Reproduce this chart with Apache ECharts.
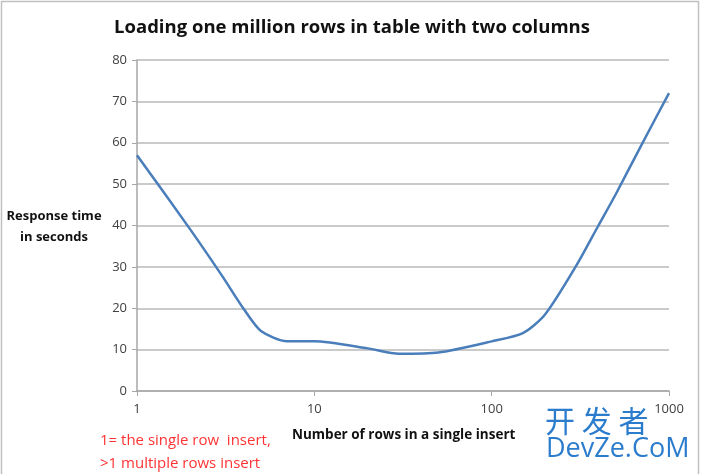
<!DOCTYPE html>
<html><head><meta charset="utf-8">
<script src="https://cdn.jsdelivr.net/npm/echarts@6/dist/echarts.min.js"></script>
<style>html,body{margin:0;padding:0;background:#fff}#c{width:704px;height:474px}</style>
</head><body><div id="c"></div>
<script>
var rows = [1, 2, 3, 4, 5, 7, 10, 20, 30, 50, 100, 150, 200, 300, 400, 500, 700, 1000];
var seconds = [57, 39, 28, 19.8, 14.5, 12, 12, 10.3, 9, 9.3, 12, 14, 18.5, 30.3, 40, 47.5, 59.5, 72];
var yTicks = [0, 80, 10];
var title = 'Loading one million rows in table with two columns';
var xName = 'Number of rows in a single insert';
var yName = 'Response time\nin seconds';
var note = ['1= the single row  insert,', '>1 multiple rows insert'];

var chart = echarts.init(document.getElementById('c'));
var data = rows.map(function (r, i) { return [r, seconds[i]]; });
var font = '"Open Sans", "Noto Sans", sans-serif';
chart.setOption({
  animation: false,
  title: { text: title, left: 'center', top: 13,
    textStyle: { fontFamily: font, fontSize: 18.5, fontWeight: 'bold', color: '#111' } },
  grid: { left: 137, right: 35, top: 60, bottom: 83 },
  xAxis: { type: 'log', min: 1, max: 1000, logBase: 10,
    axisLine: { lineStyle: { color: '#a6a6a6', width: 1.5 } },
    axisTick: { show: true, length: 5, lineStyle: { color: '#a6a6a6' } },
    axisLabel: { color: '#404040', fontSize: 13, fontFamily: font, margin: 12,
      formatter: function (v) { return String(Math.round(v)); } },
    splitLine: { show: false } },
  yAxis: { type: 'value', min: yTicks[0], max: yTicks[1], interval: yTicks[2],
    axisLine: { show: true, lineStyle: { color: '#a6a6a6', width: 1.5 } },
    axisTick: { show: true, length: 5, lineStyle: { color: '#a6a6a6' } },
    axisLabel: { color: '#404040', fontSize: 13, fontFamily: font, margin: 10 },
    splitLine: { lineStyle: { color: '#b8b8b8', width: 1.5 } } },
  series: [{ type: 'line', data: data, smooth: 0.25, showSymbol: false,
    lineStyle: { color: '#4a7ebb', width: 2.5 } }],
  graphic: [
    { type: 'rect', shape: { x: 1.5, y: 1.5, width: 697, height: 480 }, silent: true,
      style: { fill: 'none', stroke: '#c0c0c0', lineWidth: 1.5 } },
    { type: 'text', x: 54, y: 206, silent: true,
      style: { text: yName, fontFamily: font, fontSize: 13, fontWeight: 'bold',
        fill: '#111', lineHeight: 21, align: 'center', textAlign: 'center' } },
    { type: 'text', left: 292, top: 428, silent: true,
      style: { text: xName, fontFamily: font, fontSize: 13.5, fontWeight: 'bold', fill: '#111' } },
    { type: 'text', left: 100, top: 429, silent: true,
      style: { text: note.join('\n'), fontFamily: font, fontSize: 15, fill: '#ff3333', lineHeight: 23 } },
    { type: 'text', left: 545, top: 406, silent: true,
      style: { text: '开 发 者', fontFamily: '"Noto Sans CJK SC"', fontSize: 30, fill: 'rgba(20,110,200,0.9)' } },
    { type: 'text', left: 546, top: 436, silent: true,
      style: { text: 'DevZe.CoM', fontFamily: font, fontSize: 27, fill: 'rgba(20,110,200,0.9)' } }
  ]
});
</script></body></html>
